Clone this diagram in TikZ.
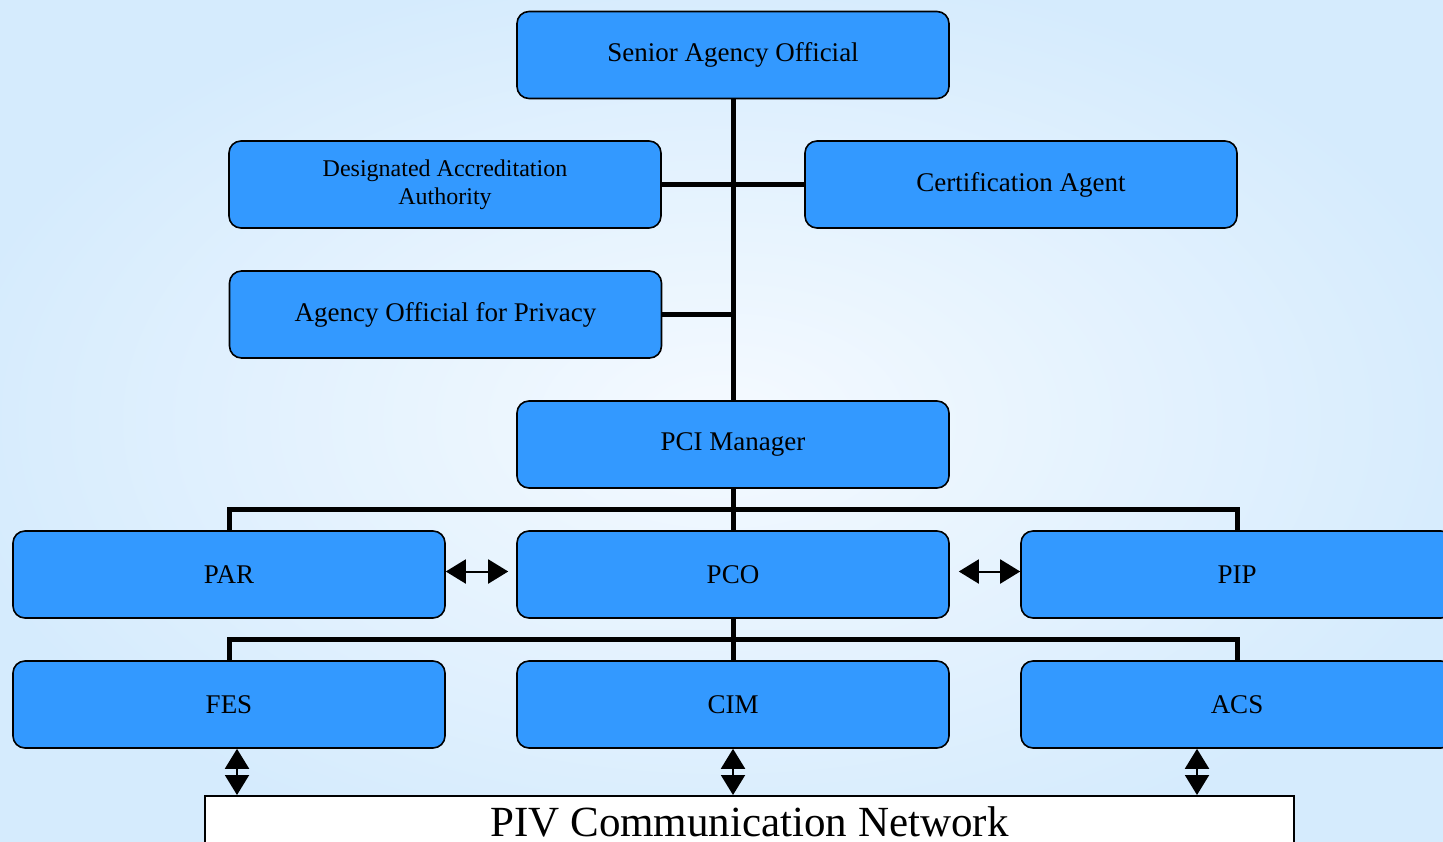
\documentclass[tikz,border=0pt]{standalone}
\usepackage{fontspec}
\setmainfont{Liberation Serif}
\usetikzlibrary{arrows.meta,calc}
\definecolor{boxblue}{HTML}{3399FF}
\definecolor{bgout}{HTML}{D5EBFD}
\definecolor{bgin}{HTML}{F5FAFF}
\tikzset{
  orgbox/.style={draw=black, line width=1.6pt, fill=boxblue, rounded corners=12pt,
    minimum width=432pt, minimum height=87pt, inner sep=0pt, align=center,
    font=\fontsize{27}{30}\selectfont},
  treeline/.style={line width=5pt},
  dbl/.style={line width=2pt, {Triangle[length=20pt,width=24pt]}-{Triangle[length=20pt,width=24pt]}},
}
\begin{document}
\begin{tikzpicture}[x=1pt,y=-1pt]
\useasboundingbox (0,0) rectangle (1443,841);
\shade[inner color=bgin, outer color=bgout] (-60,-40) rectangle (1503,881);
\clip (0,0) rectangle (1443,841);
% nodes
\node[orgbox] (sao) at (733,55) {Senior Agency Official};
\node[orgbox, font=\fontsize{24}{28}\selectfont] (daa) at (445,184.5) {Designated Accreditation\\ Authority};
\node[orgbox] (ca) at (1021,184.5) {Certification Agent};
\node[orgbox] (aop) at (445.5,314.5) {Agency Official for Privacy};
\node[orgbox] (pci) at (733,444.5) {PCI Manager};
\node[orgbox] (par) at (229,574.5) {PAR};
\node[orgbox] (pco) at (733,574.5) {PCO};
\node[orgbox] (pip) at (1237,574.5) {PIP};
\node[orgbox] (fes) at (229,704.5) {FES};
\node[orgbox] (cim) at (733,704.5) {CIM};
\node[orgbox] (acs) at (1237,704.5) {ACS};
\node[draw=black, line width=1.6pt, fill=white, anchor=north, minimum width=1089pt,
  inner sep=11pt, font=\fontsize{43}{47}\selectfont] (piv) at (749.5,795) {PIV Communication Network};
% tree connectors
\draw[treeline] (sao.south) -- (pci.north);
\draw[treeline] (daa.east) -- (ca.west);
\draw[treeline] (aop.east) -- (aop.east -| sao.south);
\draw[treeline] (pci.south) -- (pco.north);
\draw[treeline] (par.north) -- ++(0,-21) -| (pip.north);
\draw[treeline] (pco.south) -- (cim.north);
\draw[treeline] (fes.north) -- ++(0,-21) -| (acs.north);
% horizontal double arrows
\draw[dbl, shorten >=8pt] ([yshift=3pt]par.east) -- ([yshift=3pt]pco.west);
\draw[dbl, shorten <=9pt] ([yshift=3pt]pco.east) -- ([yshift=3pt]pip.west);
% vertical double arrows
\draw[dbl] ([xshift=8pt]fes.south) -- ([xshift=8pt]fes.south |- piv.north);
\draw[dbl] (cim.south) -- (cim.south |- piv.north);
\draw[dbl] ([xshift=-40pt]acs.south) -- ([xshift=-40pt]acs.south |- piv.north);
\end{tikzpicture}
\end{document}
